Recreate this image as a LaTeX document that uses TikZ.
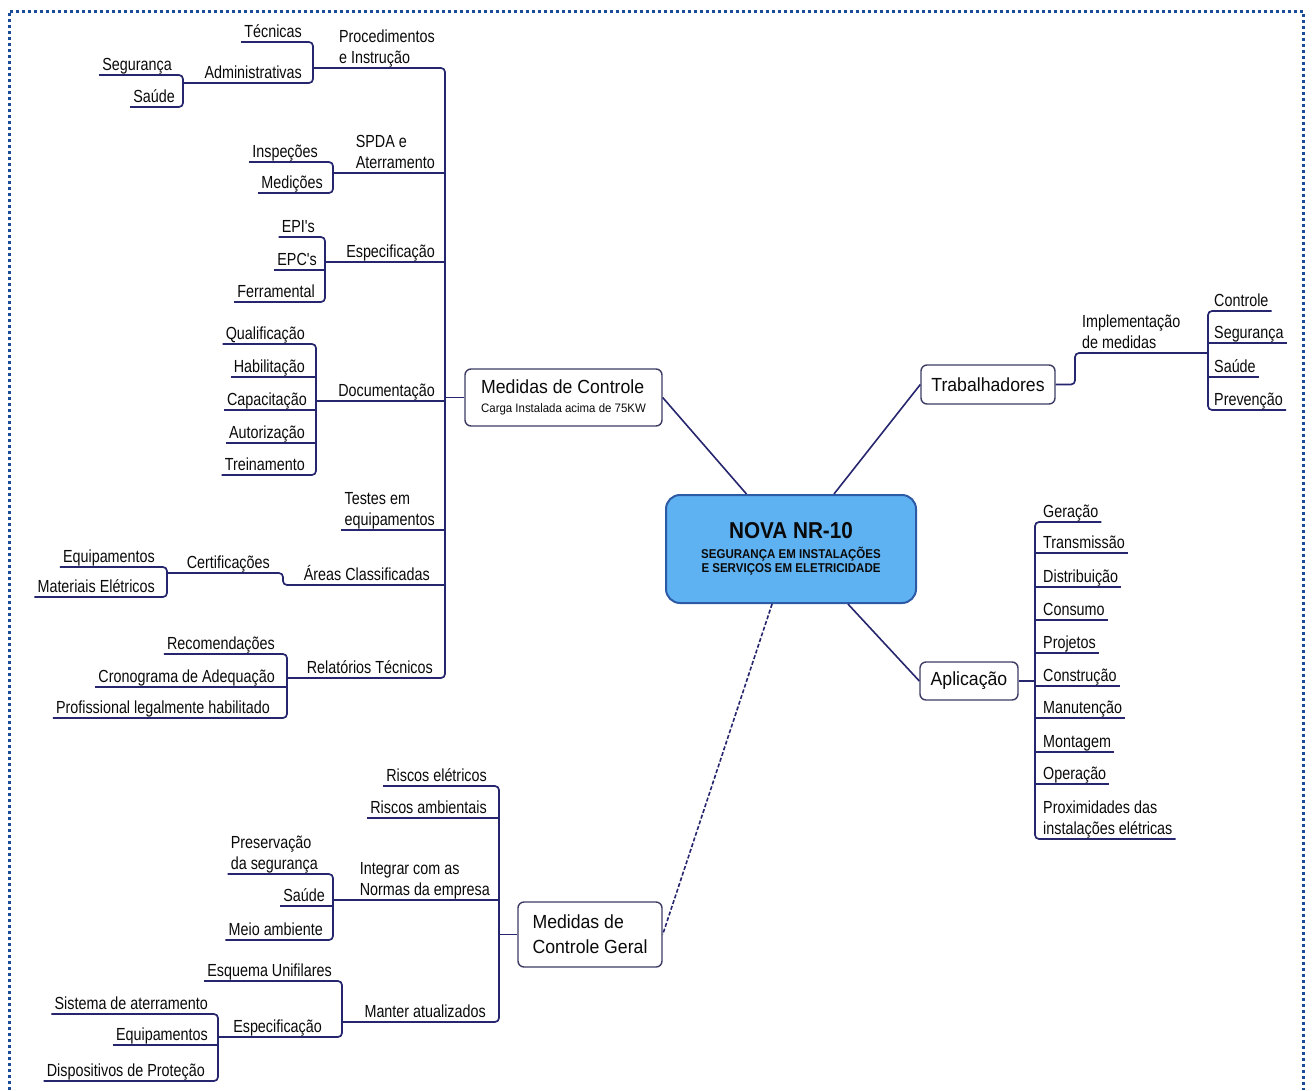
\documentclass[tikz,border=0pt]{standalone}
\usepackage{fontspec}
\setmainfont{Liberation Sans}
\newfontfamily\leaffont[FakeStretch=0.82]{Liberation Sans}
\newfontfamily\boxfont[FakeStretch=0.93]{Liberation Sans}
\newfontfamily\cfont[FakeStretch=0.9]{Liberation Sans}
\definecolor{linec}{RGB}{38,38,110}
\definecolor{boxc}{RGB}{60,60,100}
\definecolor{txtc}{RGB}{10,10,10}
\definecolor{cbf}{RGB}{95,178,242}
\definecolor{cbd}{RGB}{45,90,165}
\definecolor{brd}{RGB}{25,75,150}
\begin{document}
\begin{tikzpicture}[x=1pt,y=-1pt,
  lt/.style={font=\leaffont\fontsize{17.5}{21}\selectfont, text=txtc, inner xsep=3pt, inner ysep=0pt, align=left, execute at end node={\rule[-4pt]{0pt}{1pt}}},
  lw/.style={lt, anchor=south west},
  le/.style={lt, anchor=south east},
  ln/.style={draw=linec, line width=1.7pt, rounded corners=4pt},
  bx/.style={draw=boxc, line width=1.4pt, rounded corners=6pt, fill=white, text=txtc, font=\boxfont\fontsize{19}{24}\selectfont, align=left, inner sep=0pt},
  cn/.style={draw=linec, line width=1.6pt},
  cbox/.style={draw=cbd, fill=cbf, line width=2pt, rounded corners=14pt, align=center, text=txtc, inner sep=0pt}]
\useasboundingbox (0,0) rectangle (1312,1090);
\draw[brd, line width=3pt, dash pattern=on 3pt off 3pt] (9,1090) -- (9,11) -- (1303,11) -- (1303,1090);

% centre
\node[cbox, minimum width=250pt, minimum height=108pt, font=\cfont\bfseries\fontsize{12.8}{14.5}\selectfont] (CB) at (791,549)
  {{\fontsize{23}{25}\selectfont NOVA NR-10}\\[5pt]SEGURANÇA EM INSTALAÇÕES\\E SERVIÇOS EM ELETRICIDADE};

% ---------------- Medidas de Controle ----------------
\node[bx, minimum width=197pt, minimum height=57pt] (MC) at (563.5,397.5)
  {Medidas de Controle\\[-5pt]{\fontsize{12.3}{14}\selectfont Carga Instalada acima de 75KW}};
\coordinate (mcB) at (445,397.5);
\coordinate (procB) at (313,68);
\coordinate (admB) at (183,83);
\coordinate (spdaB) at (333,173);
\coordinate (espB) at (325,262);
\coordinate (docB) at (316,401);
\coordinate (areB) at (283,585);
\coordinate (certB) at (167,573);
\coordinate (relB) at (287,678);

\node[le] (proc) at (438,68) {Procedimentos\\e Instrução};
\node[le] (tec) at (305,42) {Técnicas};
\node[le] (adm) at (305,83) {Administrativas};
\node[le] (seg1) at (175,75) {Segurança};
\node[le] (sau1) at (178,107) {Saúde};
\node[le] (spda) at (438,173) {SPDA e\\Aterramento};
\node[le] (insp) at (321,162) {Inspeções};
\node[le] (med) at (326,193) {Medições};
\node[le] (esp) at (438,262) {Especificação};
\node[le] (epi) at (318,237) {EPI's};
\node[le] (epc) at (320,270) {EPC's};
\node[le] (fer) at (318,302) {Ferramental};
\node[le] (doc) at (438,401) {Documentação};
\node[le] (qua) at (308,344) {Qualificação};
\node[le] (hab) at (308,377) {Habilitação};
\node[le] (cap) at (310,410) {Capacitação};
\node[le] (aut) at (308,443) {Autorização};
\node[le] (tre) at (308,475) {Treinamento};
\node[le] (tes) at (438,530) {Testes em\\equipamentos};
\node[le] (are) at (433,585) {Áreas Classificadas};
\node[le] (cert) at (273,573) {Certificações};
\node[le] (equ1) at (158,567) {Equipamentos};
\node[le] (mat1) at (158,597) {Materiais Elétricos};
\node[le] (rel) at (436,678) {Relatórios Técnicos};
\node[le] (rec) at (278,654) {Recomendações};
\node[le] (cro) at (278,687) {Cronograma de Adequação};
\node[le] (pro) at (273,718) {Profissional legalmente habilitado};

\draw[ln] (mcB) -- (MC.west);
\draw[ln] (procB) -- (proc.south -| mcB) -- (rel.south -| mcB) -- (relB);
\draw[ln] (spdaB) -- (spda.south -| mcB);
\draw[ln] (espB) -- (esp.south -| mcB);
\draw[ln] (docB) -- (doc.south -| mcB);
\draw[ln] (tes.south west) -- (tes.south -| mcB);
\draw[ln] (certB) -- (cert.south -| areB) -- (areB) -- (are.south -| mcB);
\draw[ln] (tec.south west) -- (tec.south -| procB) -- (adm.south -| procB) -- (admB);
\draw[ln] (seg1.south west) -- (seg1.south -| admB) -- (sau1.south -| admB) -- (sau1.south west);
\draw[ln] (insp.south west) -- (insp.south -| spdaB) -- (med.south -| spdaB) -- (med.south west);
\draw[ln] (epi.south west) -- (epi.south -| espB) -- (fer.south -| espB) -- (fer.south west);
\draw[ln] (epc.south west) -- (epc.south -| espB);
\draw[ln] (qua.south west) -- (qua.south -| docB) -- (tre.south -| docB) -- (tre.south west);
\draw[ln] (hab.south west) -- (hab.south -| docB);
\draw[ln] (cap.south west) -- (cap.south -| docB);
\draw[ln] (aut.south west) -- (aut.south -| docB);
\draw[ln] (equ1.south west) -- (equ1.south -| certB) -- (mat1.south -| certB) -- (mat1.south west);
\draw[ln] (rec.south west) -- (rec.south -| relB) -- (pro.south -| relB) -- (pro.south west);
\draw[ln] (cro.south west) -- (cro.south -| relB);

% ---------------- Trabalhadores ----------------
\node[bx, minimum width=134pt, minimum height=39pt] (TR) at (988,384.5) {Trabalhadores};
\coordinate (trB) at (1075,384.5);
\coordinate (impB) at (1208,353);
\node[lw] (imp) at (1079,353) {Implementação\\de medidas};
\node[lw] (con) at (1211,311) {Controle};
\node[lw] (seg2) at (1211,343) {Segurança};
\node[lw] (sau2) at (1211,377) {Saúde};
\node[lw] (pre) at (1211,410) {Prevenção};
\draw[ln] (TR.east) -- (trB) -- (imp.south -| trB) -- (impB);
\draw[ln] (con.south east) -- (con.south -| impB) -- (pre.south -| impB) -- (pre.south east);
\draw[ln] (seg2.south -| impB) -- (seg2.south east);
\draw[ln] (sau2.south -| impB) -- (sau2.south east);

% ---------------- Aplicação ----------------
\node[bx, minimum width=98pt, minimum height=38pt] (AP) at (969,681) {Aplicação};
\coordinate (apB) at (1035,681);
\node[lw] (ger) at (1040,522) {Geração};
\node[lw] (tra) at (1040,553) {Transmissão};
\node[lw] (dis) at (1040,587) {Distribuição};
\node[lw] (cons) at (1040,620) {Consumo};
\node[lw] (proj) at (1040,653) {Projetos};
\node[lw] (const) at (1040,686) {Construção};
\node[lw] (mant) at (1040,718) {Manutenção};
\node[lw] (mont) at (1040,752) {Montagem};
\node[lw] (oper) at (1040,784) {Operação};
\node[lw] (prox) at (1040,839) {Proximidades das\\instalações elétricas};
\draw[ln] (AP.east) -- (apB);
\draw[ln] (ger.south east) -- (ger.south -| apB) -- (prox.south -| apB) -- (prox.south east);
\draw[ln] (tra.south -| apB) -- (tra.south east);
\draw[ln] (dis.south -| apB) -- (dis.south east);
\draw[ln] (cons.south -| apB) -- (cons.south east);
\draw[ln] (proj.south -| apB) -- (proj.south east);
\draw[ln] (const.south -| apB) -- (const.south east);
\draw[ln] (mant.south -| apB) -- (mant.south east);
\draw[ln] (mont.south -| apB) -- (mont.south east);
\draw[ln] (oper.south -| apB) -- (oper.south east);

% ---------------- Medidas de Controle Geral ----------------
\node[bx, minimum width=144pt, minimum height=65pt, font=\boxfont\fontsize{19}{25}\selectfont] (MG) at (590,934.5) {Medidas de\\Controle Geral};
\coordinate (mgB) at (499,934.5);
\coordinate (intB) at (333,900);
\coordinate (manB) at (342,1022);
\coordinate (esp2B) at (218,1037);
\node[le] (rie) at (490,786) {Riscos elétricos};
\node[le] (ria) at (490,818) {Riscos ambientais};
\node[le] (int) at (493,900) {Integrar com as\\Normas da empresa};
\node[le] (man) at (489,1022) {Manter atualizados};
\node[le] (pres) at (321,874) {Preservação\\da segurança};
\node[le] (sau3) at (328,906) {Saúde};
\node[le] (mei) at (326,940) {Meio ambiente};
\node[le] (esq) at (335,981) {Esquema Unifilares};
\node[le] (esp2) at (325,1037) {Especificação};
\node[le] (sis) at (211,1014) {Sistema de aterramento};
\node[le] (equ2) at (211,1045) {Equipamentos};
\node[le] (dis2) at (208,1081) {Dispositivos de Proteção};
\draw[ln] (MG.west) -- (mgB);
\draw[ln] (rie.south west) -- (rie.south -| mgB) -- (man.south -| mgB) -- (manB);
\draw[ln] (ria.south west) -- (ria.south -| mgB);
\draw[ln] (intB) -- (int.south -| mgB);
\draw[ln] (pres.south west) -- (pres.south -| intB) -- (mei.south -| intB) -- (mei.south west);
\draw[ln] (sau3.south west) -- (sau3.south -| intB);
\draw[ln] (esq.south west) -- (esq.south -| manB) -- (esp2.south -| manB) -- (esp2B);
\draw[ln] (sis.south west) -- (sis.south -| esp2B) -- (dis2.south -| esp2B) -- (dis2.south west);
\draw[ln] (equ2.south west) -- (equ2.south -| esp2B);

% ---------------- central connectors ----------------
\draw[cn] (CB.129) -- (MC.east);
\draw[cn] (CB.52) -- (TR.west);
\draw[cn] (CB.-44) -- (AP.west);
\draw[cn, dash pattern=on 4pt off 2pt] (CB.251.6) -- (MG.east);
\end{tikzpicture}
\end{document}
